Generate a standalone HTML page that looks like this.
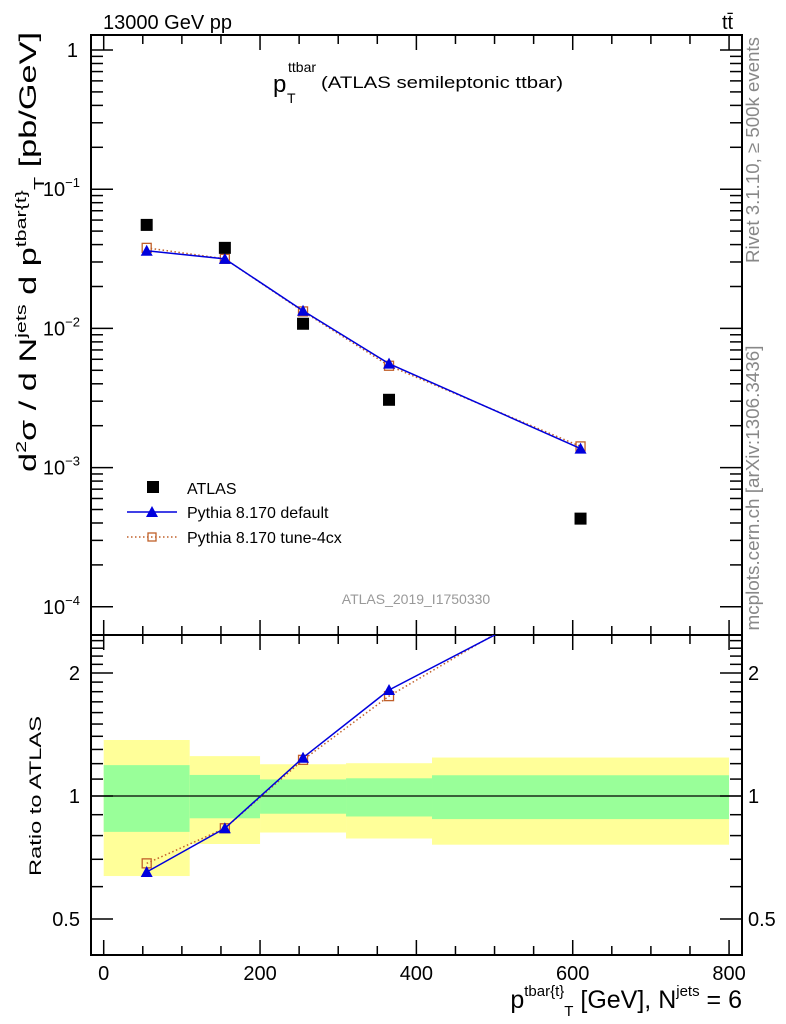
<!DOCTYPE html>
<html><head><meta charset="utf-8"><style>
html,body{margin:0;padding:0;background:#fff;}
svg{display:block;font-family:"Liberation Sans",sans-serif;}
</style></head><body>
<svg id="chart" width="786" height="1024" viewBox="0 0 786 1024" xmlns="http://www.w3.org/2000/svg">
<g id="bands"></g>
<g id="grid"></g>
<g id="series"></g>
<text x="103" y="29" font-size="20">13000 GeV pp</text>
<text x="722" y="29" font-size="20">tt̄</text>
<g>
<text x="273" y="92" font-size="24">p</text>
<text x="288" y="72" font-size="14">ttbar</text>
<text x="287" y="103" font-size="14">T</text>
<text x="321" y="88" font-size="17" textLength="242" lengthAdjust="spacingAndGlyphs">(ATLAS semileptonic ttbar)</text>
</g>
<text transform="translate(36,252) rotate(-90)" text-anchor="middle" font-size="24" textLength="440" lengthAdjust="spacingAndGlyphs">d<tspan font-size="15" dy="-10">2</tspan><tspan dy="10">σ  /  d N</tspan><tspan font-size="15" dy="-10">jets</tspan><tspan dy="10"> d p</tspan><tspan font-size="15" dy="-10">tbar{t}</tspan><tspan font-size="15" dy="18">T</tspan><tspan dy="-8"> [pb/GeV]</tspan></text>
<text transform="translate(759,150) rotate(-90)" text-anchor="middle" font-size="18" textLength="226" lengthAdjust="spacingAndGlyphs" fill="#888">Rivet 3.1.10, ≥ 500k events</text>
<text transform="translate(759,488) rotate(-90)" text-anchor="middle" font-size="18" textLength="285" lengthAdjust="spacingAndGlyphs" fill="#888">mcplots.cern.ch [arXiv:1306.3436]</text>
<text x="416" y="604" text-anchor="middle" font-size="14" fill="#999">ATLAS_2019_I1750330</text>
<g>
<rect x="147" y="481" width="12" height="12" fill="#000"/>
<text x="187" y="494" font-size="16">ATLAS</text>
<line x1="127" y1="512" x2="177" y2="512" stroke="#0000dd" stroke-width="1.5"/>
<polygon points="152,506 158,517 146,517" fill="#0000dd"/>
<text x="187" y="518" font-size="16">Pythia 8.170 default</text>
<line x1="127" y1="537" x2="177" y2="537" stroke="#c0602a" stroke-width="1.5" stroke-dasharray="1.5,2.5"/>
<rect x="148" y="533" width="8" height="8" fill="none" stroke="#c0602a" stroke-width="1.3"/>
<text x="187" y="543" font-size="16">Pythia 8.170 tune-4cx</text>
</g>
<text transform="translate(41,796) rotate(-90)" text-anchor="middle" font-size="17" textLength="160" lengthAdjust="spacingAndGlyphs">Ratio to ATLAS</text>
<text x="742" y="1008" text-anchor="end" font-size="25">p<tspan font-size="15" dy="-12">tbar{t}</tspan><tspan font-size="15" dy="20">T</tspan><tspan dy="-8"> [GeV], N</tspan><tspan font-size="15" dy="-12">jets</tspan><tspan dy="12"> = 6</tspan></text>
</svg>
<script>
const categories = [55, 155, 255, 365, 610];
const binEdges = [0, 110, 200, 310, 420, 800];
const atlasValues = [0.0554, 0.0379, 0.0108, 0.00307, 0.00043];
const defaultValues = [0.0361, 0.0316, 0.0134, 0.00558, 0.00137];
const tuneValues = [0.0379, 0.0316, 0.01324, 0.00539, 0.00142];
const band1Up = [1.19, 1.126, 1.098, 1.105, 1.124];
const band1Down = [0.817, 0.882, 0.905, 0.891, 0.878];
const band2Up = [1.371, 1.252, 1.196, 1.203, 1.242];
const band2Down = [0.637, 0.763, 0.814, 0.787, 0.76];
const xTickLabels = [0, 200, 400, 600, 800];
const yMainExps = [0, -1, -2, -3, -4];
const ratioTickLabels = [0.5, 1, 2];

const NS = "http://www.w3.org/2000/svg";
const L = 91, R = 742, T = 35, MB = 635, B = 955;
const X = v => 103.7 + v * 0.7817;
const YM = v => 50 - 139.2 * Math.log10(v);
const YR = r => 796 - 408.6 * Math.log10(r);
function mk(parent, tag, attrs) { const e = document.createElementNS(NS, tag); for (const k in attrs) e.setAttribute(k, attrs[k]); parent.appendChild(e); return e; }
const bands = document.getElementById('bands');
const grid = document.getElementById('grid');
const ser = document.getElementById('series');

for (let i = 0; i < categories.length; i++) {
  const x1 = X(binEdges[i]), x2 = X(binEdges[i + 1]);
  const y = mk(bands, 'rect', {x: x1, y: YR(band2Up[i]), width: x2 - x1, height: YR(band2Down[i]) - YR(band2Up[i]), fill: '#ffff99'});
  
  
  const g = mk(bands, 'rect', {x: x1, y: YR(band1Up[i]), width: x2 - x1, height: YR(band1Down[i]) - YR(band1Up[i]), fill: '#99ff99'});
  
  
}
const one = mk(grid, 'line', {x1: L, x2: R, y1: YR(1), y2: YR(1), stroke: '#000', 'stroke-width': 1.3});



const f1 = mk(grid, 'rect', {x: L, y: T, width: R - L, height: MB - T, fill: 'none', stroke: '#000', 'stroke-width': 2});


const f2 = mk(grid, 'rect', {x: L, y: MB, width: R - L, height: B - MB, fill: 'none', stroke: '#000', 'stroke-width': 2});



for (let v = 0; v <= 800; v += 50) {
  const major = v % 200 === 0, len = major ? 15 : 9, x = X(v);
  [[T, 1], [MB, -1], [MB, 1], [B, -1]].forEach(([y0, d]) => mk(grid, 'line', {x1: x, x2: x, y1: y0, y2: y0 + d * len, stroke: '#000', 'stroke-width': 1.5}));
}
xTickLabels.forEach(v => {
  const t = mk(grid, 'text', {x: X(v), y: 980, 'text-anchor': 'middle', 'font-size': 20});
  t.textContent = v;
  
  
});
for (let e = 0; e >= -4; e--) {
  for (let m = 1; m <= 9; m++) {
    const v = m * Math.pow(10, e), y = YM(v);
    if (y < T || y > MB) continue;
    const len = m === 1 ? 22 : 12;
    mk(grid, 'line', {x1: L, x2: L + len, y1: y, y2: y, stroke: '#000', 'stroke-width': 1.5});
    mk(grid, 'line', {x1: R, x2: R - len, y1: y, y2: y, stroke: '#000', 'stroke-width': 1.5});
  }
}
yMainExps.forEach(e => {
  const t = mk(grid, 'text', {x: 80, y: YM(Math.pow(10, e)) + 7, 'text-anchor': 'end', 'font-size': 20});
  if (e === 0) { t.textContent = '1'; t.setAttribute('x', 78); }
  else { t.textContent = '10'; const s = mk(t, 'tspan', {dy: -9, 'font-size': 13}); s.textContent = '−' + (-e); }
  
  
});
for (let r = 0.4; r <= 2.45; r += 0.1) {
  const y = YR(r); if (y < MB || y > B) continue;
  const major = [0.5, 1, 2].some(v => Math.abs(v - r) < 1e-6), len = major ? 22 : 12;
  mk(grid, 'line', {x1: L, x2: L + len, y1: y, y2: y, stroke: '#000', 'stroke-width': 1.5});
  mk(grid, 'line', {x1: R, x2: R - len, y1: y, y2: y, stroke: '#000', 'stroke-width': 1.5});
}
ratioTickLabels.forEach(r => {
  [[80, 'end'], [748, 'start']].forEach(([x, a]) => {
    const t = mk(grid, 'text', {x: x, y: YR(r) + 7, 'text-anchor': a, 'font-size': 20});
    t.textContent = r;
    
    
  });
});

const clipM = mk(ser, 'clipPath', {id: 'cm'}); mk(clipM, 'rect', {x: L, y: T, width: R - L, height: MB - T});
const clipR = mk(ser, 'clipPath', {id: 'cr'}); mk(clipR, 'rect', {x: L, y: MB, width: R - L, height: B - MB});
function drawSeries(vals, color, dash, marker, name) {
  const ptsM = vals.map((v, i) => X(categories[i]) + ',' + YM(v)).join(' ');
  const ratios = vals.map((v, i) => v / atlasValues[i]);
  const ptsR = ratios.map((r, i) => X(categories[i]) + ',' + YR(r)).join(' ');
  const a = {fill: 'none', stroke: color, 'stroke-width': 1.5}; if (dash) a['stroke-dasharray'] = dash;
  const l1 = mk(ser, 'polyline', Object.assign({points: ptsM, 'clip-path': 'url(#cm)'}, a));
  
  
  const l2 = mk(ser, 'polyline', Object.assign({points: ptsR, 'clip-path': 'url(#cr)'}, a));
  
  
  [[vals, YM, 'url(#cm)'], [ratios, YR, 'url(#cr)']].forEach(([arr, Y, cp]) => {
    arr.forEach((v, i) => {
      const x = X(categories[i]), y = Y(v); let m;
      if (marker === 'tri') m = mk(ser, 'polygon', {points: `${x},${y - 6} ${x + 6},${y + 5} ${x - 6},${y + 5}`, fill: color, 'clip-path': cp});
      else m = mk(ser, 'rect', {x: x - 4.5, y: y - 4.5, width: 9, height: 9, fill: 'none', stroke: color, 'stroke-width': 1.3, 'clip-path': cp});
      
      
    });
  });
}
drawSeries(tuneValues, '#c0602a', '1.5,2.5', 'sq', 'tune-4cx');
drawSeries(defaultValues, '#0000dd', null, 'tri', 'default');
atlasValues.forEach((v, i) => {
  const r = mk(ser, 'rect', {x: X(categories[i]) - 6, y: YM(v) - 6, width: 12, height: 12, fill: '#000'});
  
  
});
</script>
</body></html>
